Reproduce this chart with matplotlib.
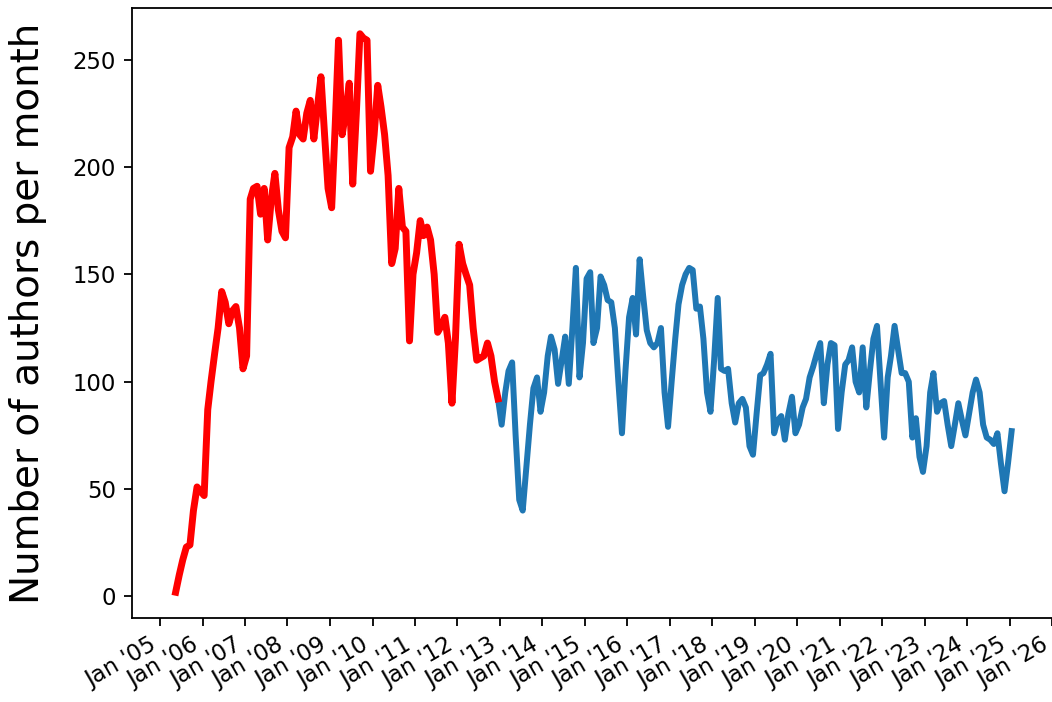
import matplotlib
matplotlib.use("Agg")
import matplotlib.pyplot as plt
import matplotlib.dates as mdates
import pandas as pd

# Monthly number of authors, early period (red), May 2005 - Dec 2012
red_start = "2005-05-01"
red_values = [2, 10, 17, 23, 24, 40, 51, 49, 47, 87, 100, 113,
              125, 142, 137, 127, 133, 135, 125, 106, 112, 185, 190, 191,
              178, 190, 166, 185, 197, 180, 170, 167, 209, 214, 226, 215,
              213, 225, 231, 213, 228, 242, 215, 190, 181, 220, 259, 215,
              225, 239, 192, 225, 262, 260, 259, 198, 215, 238, 228, 215,
              196, 155, 162, 190, 172, 170, 119, 150, 160, 175, 168, 172,
              166, 150, 123, 126, 130, 118, 90, 120, 164, 155, 150, 145,
              125, 110, 111, 112, 118, 112, 100, 92]

# Monthly number of authors, later period (blue), Dec 2012 - Jan 2025
blue_start = "2012-12-01"
blue_values = [92, 80, 95, 105, 109, 75, 45, 40, 60, 80, 97, 102,
               86, 95, 112, 121, 115, 99, 110, 121, 99, 125, 153, 102,
               118, 148, 151, 118, 125, 149, 145, 138, 137, 125, 100, 76,
               105, 130, 139, 122, 157, 140, 124, 118, 116, 118, 125, 95,
               79, 100, 120, 136, 145, 150, 153, 152, 134, 135, 120, 95,
               86, 110, 139, 106, 105, 106, 90, 81, 90, 92, 88, 70,
               66, 85, 103, 104, 108, 113, 76, 82, 84, 73, 85, 93,
               76, 80, 88, 92, 102, 107, 113, 118, 90, 108, 118, 117,
               78, 95, 108, 110, 116, 100, 95, 116, 88, 105, 120, 126,
               100, 74, 102, 112, 126, 115, 104, 104, 100, 74, 83, 65,
               58, 70, 95, 104, 86, 90, 91, 80, 70, 80, 90, 82,
               75, 85, 95, 101, 95, 80, 74, 73, 71, 76, 62, 49,
               62, 77]

# points are plotted mid-month
offset = pd.Timedelta(days=14)
red_dates = pd.date_range(red_start, periods=len(red_values), freq="MS") + offset
blue_dates = pd.date_range(blue_start, periods=len(blue_values), freq="MS") + offset

fig = plt.figure(figsize=(10.52, 7.02), dpi=100)
ax = fig.add_axes([0.12548, 0.1197, 0.8764, 0.8689])
for sp in ax.spines.values():
    sp.set_linewidth(1.3)

ax.plot(blue_dates, blue_values, color="#1f77b4", linewidth=4.3)
ax.plot(red_dates, red_values, color="red", linewidth=5)

ax.set_xlim(pd.Timestamp("2004-05-05"), pd.Timestamp("2026-01-14"))
ax.set_ylim(-10, 274)

ax.xaxis.set_major_locator(mdates.YearLocator(1, month=1, day=1))
ax.xaxis.set_major_formatter(mdates.DateFormatter("%b '%y"))
ax.tick_params(labelsize=16.4, length=5.7, width=1.3, pad=5.7)
plt.setp(ax.get_xticklabels(), rotation=30, ha="right")
ax.set_ylabel("Number of authors per month", fontsize=28)
ax.yaxis.set_label_coords(-0.0922, 0.5)

fig.savefig("out.png", dpi=100)
